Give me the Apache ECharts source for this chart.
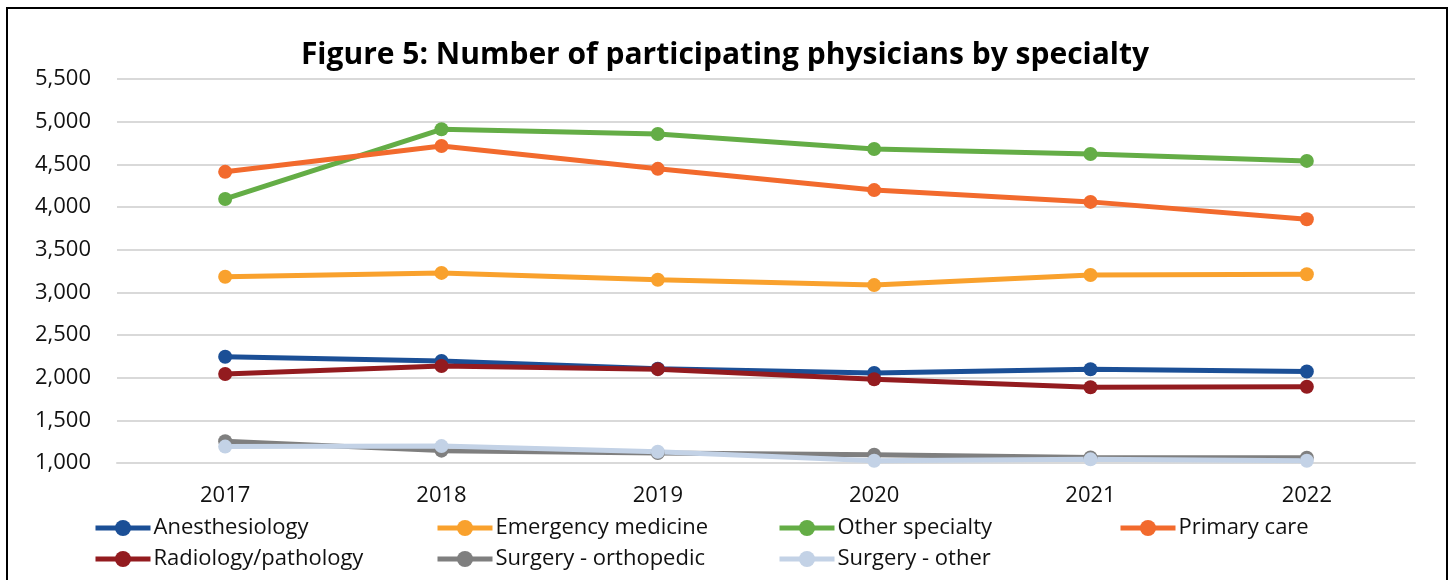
<!DOCTYPE html>
<html>
<head>
<meta charset="utf-8">
<script src="https://cdn.jsdelivr.net/npm/echarts@6/dist/echarts.min.js"></script>
<style>
  html, body { margin: 0; padding: 0; background: #fff; }
  #chart { width: 1450px; height: 580px; }
</style>
</head>
<body>
<div id="chart"></div>
<script>
const years = ['2017', '2018', '2019', '2020', '2021', '2022'];

const anesthesiology = [2245, 2195, 2105, 2055, 2098, 2072];
const emergencyMedicine = [3183, 3228, 3148, 3085, 3203, 3212];
const otherSpecialty = [4094, 4911, 4855, 4680, 4621, 4540];
const primaryCare = [4412, 4715, 4447, 4198, 4060, 3857];
const radiologyPathology = [2043, 2137, 2100, 1982, 1888, 1894];
const surgeryOrthopedic = [1255, 1145, 1118, 1098, 1065, 1062];
const surgeryOther = [1192, 1198, 1132, 1027, 1043, 1027];

const yTicks = { min: 1000, max: 5500, interval: 500 };

const seriesDefs = [
  { name: 'Anesthesiology', data: anesthesiology, color: '#1b4f96' },
  { name: 'Emergency medicine', data: emergencyMedicine, color: '#f9a12d' },
  { name: 'Other specialty', data: otherSpecialty, color: '#64ad46' },
  { name: 'Primary care', data: primaryCare, color: '#f26a2d' },
  { name: 'Radiology/pathology', data: radiologyPathology, color: '#931b1f' },
  { name: 'Surgery - orthopedic', data: surgeryOrthopedic, color: '#7f7f7f' },
  { name: 'Surgery - other', data: surgeryOther, color: '#c3d2e6' }
];

// legend slots: two rows, four columns
const legendPos = [
  [93, 517], [435, 517], [777, 517], [1118, 517],
  [93, 548], [435, 548], [777, 548]
];

const chart = echarts.init(document.getElementById('chart'));

const option = {
  backgroundColor: '#fff',
  animation: false,
  textStyle: { fontFamily: 'Open Sans' },
  title: {
    text: 'Figure 5: Number of participating physicians by specialty',
    left: 'center',
    top: 35,
    textStyle: {
      fontFamily: 'Open Sans',
      fontSize: 30,
      fontWeight: 'bold',
      color: '#000'
    }
  },
  graphic: [{
    type: 'rect',
    shape: { x: 7, y: 8, width: 1440, height: 600 },
    style: { fill: 'none', stroke: '#000', lineWidth: 2 },
    silent: true
  }],
  grid: {
    left: 117,
    right: 35,
    top: 79,
    bottom: 117
  },
  legend: seriesDefs.map((s, i) => ({
    data: [s.name],
    left: legendPos[i][0],
    top: legendPos[i][1],
    padding: 0,
    itemWidth: 55,
    itemHeight: 20,
    itemGap: 0,
    lineStyle: { width: 5 },
    textStyle: { fontSize: 22, color: '#111', fontFamily: 'Open Sans', padding: [0, 0, 0, -2] }
  })),
  xAxis: {
    type: 'category',
    data: years,
    boundaryGap: true,
    axisLine: { show: true, lineStyle: { color: '#d9d9d9', width: 2 } },
    axisTick: { show: false },
    axisLabel: { fontSize: 22, color: '#111', margin: 22 }
  },
  yAxis: {
    type: 'value',
    min: yTicks.min,
    max: yTicks.max,
    interval: yTicks.interval,
    axisLine: { show: false },
    axisTick: { show: false },
    splitLine: { lineStyle: { color: '#d9d9d9', width: 2 } },
    axisLabel: {
      fontSize: 22,
      color: '#111',
      margin: 26,
      formatter: v => v.toLocaleString('en-US')
    }
  },
  series: seriesDefs.map(s => ({
    name: s.name,
    type: 'line',
    data: s.data,
    symbol: 'circle',
    symbolSize: 14,
    lineStyle: { width: 5, color: s.color },
    itemStyle: { color: s.color }
  }))
};

chart.setOption(option);
</script>
</body>
</html>
